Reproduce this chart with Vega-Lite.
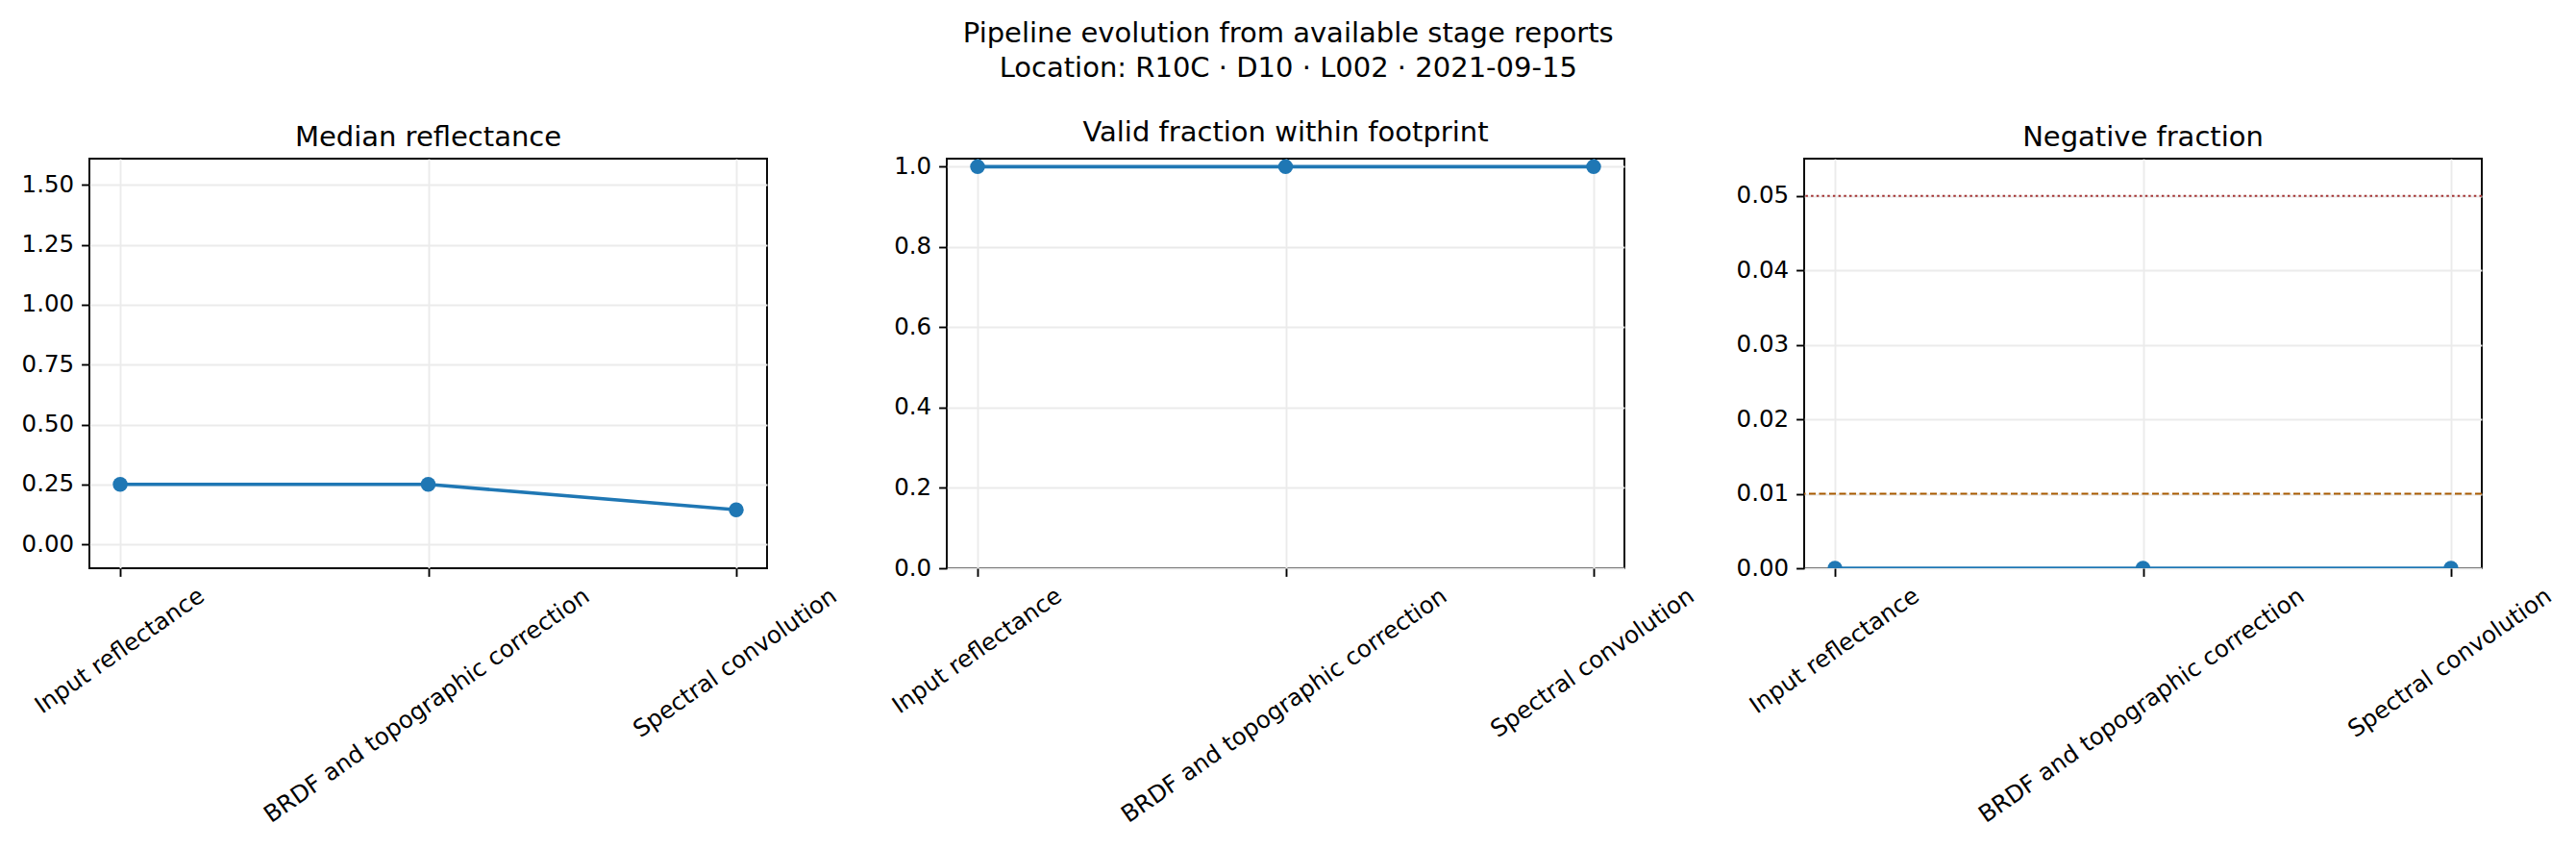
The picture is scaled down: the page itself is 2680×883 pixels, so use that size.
{
  "$schema": "https://vega.github.io/schema/vega-lite/v6.json",
  "title": {
    "text": ["Pipeline evolution from available stage reports", "Location: R10C · D10 · L002 · 2021-09-15"],
    "anchor": "middle",
    "frame": "bounds",
    "fontSize": 29,
    "lineHeight": 36,
    "baseline": "top",
    "offset": 37
  },
  "padding": {"left": 21, "top": 21, "right": 10, "bottom": 10},
  "datasets": {
    "stages": [
      {"stage": "Input reflectance", "median": 0.25, "valid": 1.0, "negative": 0.0},
      {"stage": "BRDF and topographic correction", "median": 0.25, "valid": 1.0, "negative": 0.0},
      {"stage": "Spectral convolution", "median": 0.144, "valid": 1.0, "negative": 0.0}
    ]
  },
  "spacing": 187,
  "bounds": "flush",
  "hconcat": [
    {
      "title": "Median reflectance",
      "width": 705,
      "height": 426,
      "data": {"name": "stages"},
      "encoding": {
        "x": {
          "field": "stage", "type": "nominal",
          "sort": ["Input reflectance", "BRDF and topographic correction", "Spectral convolution"],
          "scale": {"type": "point", "padding": 0.1},
          "axis": {
            "title": null, "labelAngle": -35, "labelAlign": "right", "labelBaseline": "top", "labelLimit": 0,
            "labelOffset": {"condition": [
              {"test": "datum.value == 'Input reflectance'", "value": 78},
              {"test": "datum.value == 'Spectral convolution'", "value": 95}
            ], "value": 158}
          }
        },
        "y": {
          "field": "median", "type": "quantitative",
          "scale": {"domain": [-0.1, 1.61], "nice": false, "zero": false},
          "axis": {"title": null, "values": [0, 0.25, 0.5, 0.75, 1, 1.25, 1.5], "format": ".2f"}
        }
      },
      "layer": [
        {"mark": {"type": "line", "color": "#1f77b4", "strokeWidth": 3.6}},
        {"mark": {"type": "point", "filled": true, "opacity": 1, "size": 240, "color": "#1f77b4", "clip": true}}
      ]
    },
    {
      "title": "Valid fraction within footprint",
      "width": 705,
      "height": 426,
      "data": {"name": "stages"},
      "encoding": {
        "x": {
          "field": "stage", "type": "nominal",
          "sort": ["Input reflectance", "BRDF and topographic correction", "Spectral convolution"],
          "scale": {"type": "point", "padding": 0.1},
          "axis": {
            "title": null, "labelAngle": -35, "labelAlign": "right", "labelBaseline": "top", "labelLimit": 0,
            "labelOffset": {"condition": [
              {"test": "datum.value == 'Input reflectance'", "value": 78},
              {"test": "datum.value == 'Spectral convolution'", "value": 95}
            ], "value": 158}
          }
        },
        "y": {
          "field": "valid", "type": "quantitative",
          "scale": {"domain": [0, 1.02], "nice": false},
          "axis": {"title": null, "values": [0, 0.2, 0.4, 0.6, 0.8, 1.0], "format": ".1f"}
        }
      },
      "layer": [
        {"mark": {"type": "line", "color": "#1f77b4", "strokeWidth": 3.6}},
        {"mark": {"type": "point", "filled": true, "opacity": 1, "size": 240, "color": "#1f77b4", "clip": true}}
      ]
    },
    {
      "title": "Negative fraction",
      "width": 705,
      "height": 426,
      "layer": [
        {
          "data": {"values": [{"threshold": 0.05}]},
          "mark": {"type": "rule", "color": "#a33333", "strokeDash": [2.5, 3.2], "strokeWidth": 2},
          "encoding": {"y": {"field": "threshold", "type": "quantitative"}}
        },
        {
          "data": {"values": [{"threshold": 0.01}]},
          "mark": {"type": "rule", "color": "#a85a00", "strokeDash": [7, 3.5], "strokeWidth": 2},
          "encoding": {"y": {"field": "threshold", "type": "quantitative"}}
        },
        {
          "data": {"name": "stages"},
          "encoding": {
            "x": {
              "field": "stage", "type": "nominal",
              "sort": ["Input reflectance", "BRDF and topographic correction", "Spectral convolution"],
              "scale": {"type": "point", "padding": 0.1},
              "axis": {
                "title": null, "labelAngle": -35, "labelAlign": "right", "labelBaseline": "top", "labelLimit": 0,
                "labelOffset": {"condition": [
                  {"test": "datum.value == 'Input reflectance'", "value": 78},
                  {"test": "datum.value == 'Spectral convolution'", "value": 95}
                ], "value": 158}
              }
            },
            "y": {
              "field": "negative", "type": "quantitative",
              "scale": {"domain": [0, 0.055], "nice": false},
              "axis": {"title": null, "values": [0, 0.01, 0.02, 0.03, 0.04, 0.05], "format": ".2f"}
            }
          },
          "layer": [
            {"mark": {"type": "line", "color": "#1f77b4", "strokeWidth": 3.6, "clip": true}},
            {"mark": {"type": "point", "filled": true, "opacity": 1, "size": 240, "color": "#1f77b4", "clip": true}}
          ]
        }
      ]
    }
  ],
  "config": {
    "font": "DejaVu Sans",
    "view": {"stroke": "black", "strokeWidth": 1.9},
    "axis": {
      "domain": false,
      "grid": true,
      "gridColor": "#ebebeb",
      "gridWidth": 1.9,
      "ticks": true,
      "tickColor": "black",
      "tickWidth": 1.9,
      "tickSize": 8.4,
      "labelFont": "DejaVu Sans",
      "labelFontSize": 24.5,
      "labelColor": "black",
      "labelPadding": 8
    },
    "title": {
      "font": "DejaVu Sans",
      "fontSize": 29,
      "fontWeight": "normal",
      "color": "black",
      "frame": "group",
      "baseline": "alphabetic",
      "offset": 7
    }
  }
}
